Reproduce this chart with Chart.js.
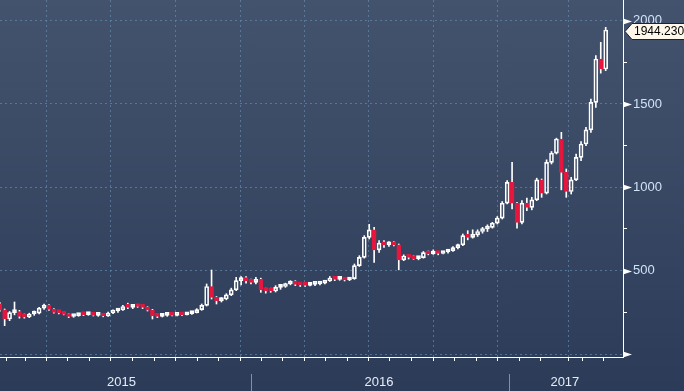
<!DOCTYPE html>
<html>
<head>
<meta charset="utf-8">
<script src="https://cdn.jsdelivr.net/npm/chart.js@4.4.1/dist/chart.umd.min.js"></script>
<style>
  html, body { margin: 0; padding: 0; }
  body { width: 684px; height: 391px; overflow: hidden; background: linear-gradient(#44536d, #2c3b58); }
</style>
</head>
<body>
<canvas id="chart" width="684" height="391"></canvas>
<script>
// Weekly candles (week start dates)
const dates = [
  "2015-01-09","2015-01-16","2015-01-23","2015-01-30","2015-02-06","2015-02-13","2015-02-20","2015-02-27",
  "2015-03-06","2015-03-13","2015-03-20","2015-03-27","2015-04-03","2015-04-10","2015-04-17","2015-04-24",
  "2015-05-01","2015-05-08","2015-05-15","2015-05-22","2015-05-29","2015-06-05","2015-06-12","2015-06-19",
  "2015-06-26","2015-07-03","2015-07-10","2015-07-17","2015-07-24","2015-07-31","2015-08-07","2015-08-14",
  "2015-08-21","2015-08-28","2015-09-04","2015-09-11","2015-09-18","2015-09-25","2015-10-02","2015-10-09",
  "2015-10-16","2015-10-23","2015-10-30","2015-11-06","2015-11-13","2015-11-20","2015-11-27","2015-12-04",
  "2015-12-11","2015-12-18","2015-12-25",
  "2016-01-01","2016-01-08","2016-01-15","2016-01-22","2016-01-29","2016-02-05","2016-02-12","2016-02-19",
  "2016-02-26","2016-03-04","2016-03-11","2016-03-18","2016-03-25","2016-04-01","2016-04-08","2016-04-15",
  "2016-04-22","2016-04-29","2016-05-06","2016-05-13","2016-05-20","2016-05-27","2016-06-03","2016-06-10",
  "2016-06-17","2016-06-24","2016-07-01","2016-07-08","2016-07-15","2016-07-22","2016-07-29","2016-08-05",
  "2016-08-12","2016-08-19","2016-08-26","2016-09-02","2016-09-09","2016-09-16","2016-09-23","2016-09-30",
  "2016-10-07","2016-10-14","2016-10-21","2016-10-28","2016-11-04","2016-11-11","2016-11-18","2016-11-25",
  "2016-12-02","2016-12-09","2016-12-16","2016-12-23","2016-12-30",
  "2017-01-06","2017-01-13","2017-01-20","2017-01-27","2017-02-03","2017-02-10","2017-02-17","2017-02-24",
  "2017-03-03","2017-03-10","2017-03-17","2017-03-24","2017-03-31","2017-04-07","2017-04-14","2017-04-21",
  "2017-04-28","2017-05-05","2017-05-12","2017-05-19"
];

const open = [
  300,265,210,248,255,225,222,240,245,275,292,268,250,248,238,225,230,238,236,240,232,235,228,246,258,265,285,280,292,285,
  280,263,230,226,232,238,232,236,235,242,248,266,292,405,340,320,330,355,385,440,455,
  440,430,448,385,380,378,400,405,420,430,418,415,412,418,420,425,438,455,448,455,444,452,530,580,700,745,625,665,655,665,
  655,565,588,580,572,578,608,600,606,603,612,620,638,655,710,700,715,735,750,760,785,815,905,
  1030,905,790,905,880,925,1045,965,1150,1205,1290,1090,975,1045,1180,1260,1345,1510,1770,1710
];
const high = [
  310,270,255,312,262,240,245,258,280,300,296,272,262,256,242,236,244,245,243,242,240,238,252,265,272,292,305,298,298,292,
  284,268,240,238,242,242,240,240,246,252,272,300,420,504,345,338,362,395,460,465,465,
  450,460,455,395,395,410,412,425,440,440,425,420,425,425,428,442,465,462,462,460,458,540,590,710,778,760,680,680,675,675,
  660,595,595,590,585,615,618,625,612,615,625,645,660,720,740,745,745,760,775,790,825,915,1040,
  1150,910,920,935,940,1055,1050,1165,1215,1295,1330,1110,1060,1200,1275,1360,1530,1790,1870,1960
];
const low = [
  255,170,200,235,215,215,218,232,240,268,262,245,240,235,218,220,226,230,232,228,226,223,225,242,250,262,272,272,280,272,
  258,210,218,222,226,228,228,230,234,238,246,262,288,330,300,312,325,350,380,415,425,
  420,420,370,365,370,372,388,400,415,410,405,405,408,410,415,420,435,440,442,438,440,448,525,575,690,550,610,640,645,648,
  505,560,570,568,565,575,595,598,595,600,605,615,630,650,685,695,705,725,735,755,780,810,900,
  870,755,780,860,865,920,940,960,1140,1200,985,940,960,1040,1160,1250,1330,1480,1685,1700
];
const close = [
  265,210,248,255,225,222,240,245,275,292,268,250,248,238,225,230,238,236,240,232,235,228,246,258,265,285,280,292,285,280,
  263,230,226,232,238,232,236,235,242,248,266,292,405,340,320,330,355,385,440,455,440,
  430,448,385,380,378,400,405,420,430,418,415,412,418,420,425,438,455,448,455,444,452,530,580,700,745,625,665,655,665,655,
  565,588,580,572,578,608,600,606,603,612,620,638,655,710,700,715,735,750,760,785,815,905,1030,
  905,790,905,880,925,1045,965,1150,1205,1290,1090,975,1045,1180,1260,1345,1510,1770,1710,1944.23
];

const lastValue = "1944.230";
const yTicks = [0, 250, 500, 750, 1000, 1250, 1500, 1750, 2000];
const yearLabels = ["2015", "2016", "2017"];
const yearLabelDates = ["2015-07-01", "2016-07-01", "2017-03-22"];
const yearStarts = ["2016-01-01", "2017-01-01"];

const RED = "#e5173f";
const WHITE = "#ffffff";
const GRID = "rgba(95,135,165,0.75)";
const FONT = "'Liberation Sans', Arial, sans-serif";

const base = Date.UTC(2015, 0, 1);
const dayOf = s => (Date.parse(s) - base) / 86400000;

const xMin = 8.4, xMax = 893.6;

// month ticks on x axis
const xTickInfo = new Map();
for (let y = 2015; y <= 2017; y++) {
  for (let m = 0; m < 12; m++) {
    const d = (Date.UTC(y, m, 1) - base) / 86400000;
    if (d < xMin || d > xMax) continue;
    xTickInfo.set(d, { grid: m % 3 === 0, mark: true, label: "" });
  }
}
yearLabelDates.forEach((s, i) => {
  const d = dayOf(s);
  const t = xTickInfo.get(d) || { grid: false, mark: false, label: "" };
  t.label = yearLabels[i];
  xTickInfo.set(d, t);
});
const xTicks = [...xTickInfo.keys()].sort((a, b) => a - b);

const up = close.map((c, i) => c >= open[i]);

const bodyData = dates.map((d, i) => ({ x: dayOf(d), y: [open[i], close[i]] }));
const wickLowData = dates.map((d, i) => ({ x: dayOf(d), y: [low[i], Math.min(open[i], close[i])] }));
const wickHighData = dates.map((d, i) => ({ x: dayOf(d), y: [Math.max(open[i], close[i]), high[i]] }));

const decorations = {
  id: "decorations",
  afterDraw(chart) {
    const ctx = chart.ctx;
    const xs = chart.scales.x, ys = chart.scales.y;
    ctx.save();
    // triangles on major y ticks
    ctx.fillStyle = WHITE;
    yTicks.filter(v => v % 500 === 0).forEach(v => {
      const py = Math.round(ys.getPixelForValue(v)) + 0.5;
      const px = ys.left;
      ctx.beginPath();
      ctx.moveTo(px, py - 3);
      ctx.lineTo(px + 9, py);
      ctx.lineTo(px, py + 3);
      ctx.closePath();
      ctx.fill();
    });
    // year separators below the axis
    ctx.strokeStyle = "#8190a6";
    ctx.lineWidth = 1;
    yearStarts.forEach(s => {
      const px = Math.round(xs.getPixelForValue(dayOf(s))) + 0.5;
      ctx.beginPath();
      ctx.moveTo(px, 374);
      ctx.lineTo(px, 391);
      ctx.stroke();
    });
    // last value callout
    const cy = Math.round(ys.getPixelForValue(close[close.length - 1])) + 1.5;
    const lx = ys.left + 2;
    ctx.beginPath();
    ctx.moveTo(lx, cy);
    ctx.lineTo(lx + 7, cy - 8);
    ctx.lineTo(700, cy - 8);
    ctx.lineTo(700, cy + 8);
    ctx.lineTo(lx + 7, cy + 8);
    ctx.closePath();
    ctx.fillStyle = "#fff7ea";
    ctx.fill();
    ctx.strokeStyle = "#222";
    ctx.stroke();
    ctx.fillStyle = "#000";
    ctx.font = "12px " + FONT;
    ctx.textBaseline = "middle";
    ctx.textAlign = "left";
    ctx.fillText(lastValue, lx + 9, cy + 0.5);
    ctx.restore();
  }
};

const ctx = document.querySelector("#chart").getContext("2d");
new Chart(ctx, {
  type: "bar",
  data: {
    datasets: [
      {
        data: wickLowData,
        backgroundColor: WHITE,
        barThickness: 1,
        grouped: false,
        order: 2,
      },
      {
        data: wickHighData,
        backgroundColor: WHITE,
        barThickness: 1,
        grouped: false,
        order: 2,
      },
      {
        data: bodyData,
        backgroundColor: up.map(u => (u ? "rgba(0,0,0,0)" : RED)),
        borderColor: up.map(u => (u ? WHITE : RED)),
        borderWidth: 1,
        borderSkipped: false,
        barThickness: 4,
        minBarLength: 3,
        grouped: false,
        order: 1,
      },
    ],
  },
  options: {
    responsive: false,
    animation: false,
    layout: { padding: 0 },
    plugins: {
      legend: { display: false },
      tooltip: { enabled: false },
    },
    scales: {
      x: {
        type: "linear",
        min: xMin,
        max: xMax,
        offset: false,
        afterBuildTicks: s => { s.ticks = xTicks.map(v => ({ value: v })); },
        afterFit: s => { s.height = 34; s.paddingLeft = 0; s.paddingRight = 0; },
        grid: {
          color: c => (c.tick && xTickInfo.get(c.tick.value) && xTickInfo.get(c.tick.value).grid ? GRID : "rgba(0,0,0,0)"),
          tickColor: c => (c.tick && xTickInfo.get(c.tick.value) && xTickInfo.get(c.tick.value).mark ? WHITE : "rgba(0,0,0,0)"),
          tickLength: 4,
        },
        border: { color: WHITE, width: 1, dash: [2, 3] },
        ticks: {
          autoSkip: false,
          maxRotation: 0,
          color: "#e4edf7",
          font: { family: FONT, size: 13 },
          padding: 14,
          callback: v => (xTickInfo.get(v) ? xTickInfo.get(v).label : ""),
        },
      },
      y: {
        position: "right",
        min: -18,
        max: 2124,
        afterBuildTicks: s => { s.ticks = yTicks.map(v => ({ value: v })); },
        afterFit: s => { s.width = 61; s.paddingTop = 0; s.paddingBottom = 0; },
        grid: {
          color: c => (c.tick && c.tick.value % 500 === 0 ? GRID : "rgba(0,0,0,0)"),
          tickColor: WHITE,
          tickLength: 4,
        },
        border: { color: WHITE, width: 1, dash: [2, 3] },
        ticks: {
          color: "#cfe2f6",
          font: { family: FONT, size: 13 },
          padding: 6,
          callback: v => (v % 500 === 0 && v > 0 ? String(v) : ""),
        },
      },
    },
  },
  plugins: [decorations],
});
</script>
</body>
</html>
